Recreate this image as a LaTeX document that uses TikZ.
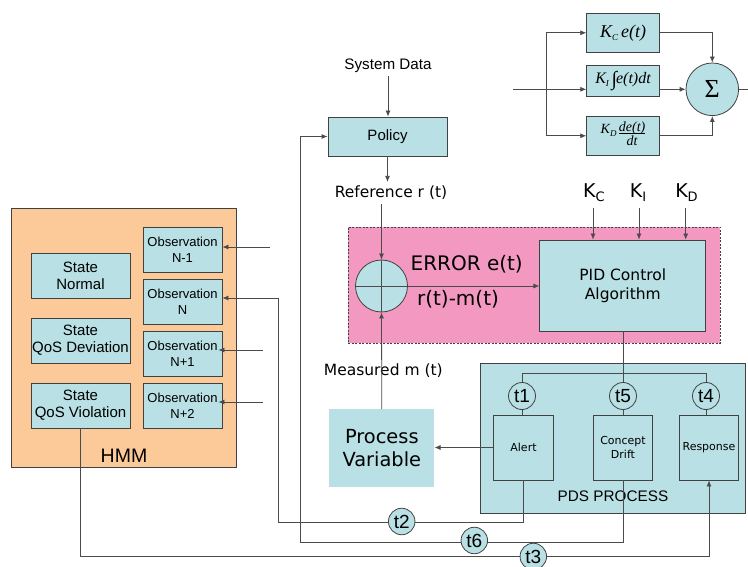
\documentclass[tikz,border=0pt]{standalone}
\usepackage{fontspec}
\setmainfont{Liberation Sans}
\newfontfamily\vf{DejaVu Sans}
\newfontfamily\tf{Liberation Serif}
\usetikzlibrary{arrows.meta}
\definecolor{boxc}{RGB}{185,224,228}
\definecolor{hmmc}{RGB}{252,201,152}
\definecolor{pinkc}{RGB}{243,152,192}
\definecolor{linec}{RGB}{75,75,75}
\definecolor{edgec}{RGB}{65,65,65}
\newcommand\sbs[1]{\raisebox{-3pt}{\fontsize{9}{9}\selectfont #1}}
\begin{document}
\begin{tikzpicture}[x=1pt,y=-1pt,
  box/.style={draw=edgec,fill=boxc,line width=0.8pt,inner sep=0pt,align=center},
  conn/.style={draw=linec,line width=0.8pt},
  arr/.style={conn,-{Latex[length=6pt,width=5pt]}},
  tc/.style={circle,draw=edgec,fill=boxc,line width=0.8pt,inner sep=0pt,minimum size=27pt,font=\fontsize{19}{19}\selectfont},
  statebox/.style={box,minimum width=99pt,minimum height=45pt,font=\fontsize{15}{17}\selectfont},
  obsbox/.style={box,minimum width=79pt,minimum height=45pt,font=\fontsize{13}{16}\selectfont},
  pdsbox/.style={box,minimum width=59.5pt,minimum height=65pt,font=\vf\fontsize{11}{13.3}\selectfont},
  vtext/.style={font=\vf\fontsize{15.5}{18.5}\selectfont,inner sep=1pt},
  ktext/.style={font=\vf\fontsize{19}{20}\selectfont,inner sep=1pt},
  ftbox/.style={box,minimum width=72.6pt}]
\clip (0,0) rectangle (748,567);
\fill[white] (0,0) rectangle (748,567);

% ---------- HMM ----------
\node[fill=hmmc,draw=edgec,line width=0.8pt,minimum width=225pt,minimum height=259pt,inner sep=0pt] (hmm) at (123.5,337.5) {};
\node[font=\fontsize{19.5}{20}\selectfont,inner sep=0pt] (hmml) at (124,456) {HMM};
\node[statebox] (sn) at (80.5,275.5) {State\\Normal};
\node[statebox] (sd) at (80.5,340.5) {State\\QoS Deviation};
\node[statebox] (sv) at (80.5,405.5) {State\\QoS Violation};
\node[obsbox] (o1) at (182.5,249.5) {Observation\\N-1};
\node[obsbox] (o2) at (182.5,301.5) {Observation\\N};
\node[obsbox] (o3) at (182.5,353.5) {Observation\\N+1};
\node[obsbox] (o4) at (182.5,405.5) {Observation\\N+2};

\coordinate (i1) at (270,247);
\coordinate (i3) at (263,350);
\coordinate (i4) at (263,402);
\draw[arr] (i1) -- (i1 -| o1.east);
\draw[arr] (i3) -- ([xshift=-4pt]i3 -| o3.east);
\draw[arr] (i4) -- ([xshift=-4pt]i4 -| o4.east);

% ---------- Policy ----------
\node[font=\fontsize{15.2}{16}\selectfont,inner sep=3pt] (sysd) at (388,66) {System Data};
\node[box,minimum width=119pt,minimum height=39pt,font=\fontsize{15}{16}\selectfont] (pol) at (387.5,136.5) {Policy};
\node[vtext,inner sep=4pt] (ref) at (391,193) {Reference r (t)};
\draw[arr] (sysd.south) -- (sysd.south |- pol.north);
\draw[arr] (pol.south) -- (pol.south |- ref.north);

% ---------- error / PID ----------
\node[fill=pinkc,draw=edgec,dash pattern=on 2pt off 1.5pt,line width=0.6pt,minimum width=372pt,minimum height=116pt,inner sep=0pt] (pink) at (534,285) {};
\node[circle,draw=edgec,fill=boxc,minimum size=52pt,inner sep=0pt,line width=0.8pt] (cir) at (381.5,286) {};
\draw[conn] (cir.north) -- (cir.south);
\draw[conn] (cir.west) -- (cir.east);
\node[box,minimum width=166pt,minimum height=91pt,font=\vf\fontsize{15.5}{18.5}\selectfont] (pid) at (622.8,285.5) {PID Control\\Algorithm};
\node[font=\vf\fontsize{20}{20}\selectfont,inner sep=0pt] (err) at (466.7,264) {ERROR e(t)};
\node[font=\vf\fontsize{20}{20}\selectfont,inner sep=0pt] (rm) at (458,299) {r(t)-m(t)};
\draw[arr] (cir.east) -- (cir.east -| pid.west);
\draw[arr] (cir |- ref.south) -- (cir.north);

\node[ktext] (kc) at (594,193) {K\raisebox{-4pt}{\fontsize{13}{13}\selectfont C}};
\node[ktext] (ki) at (638,193) {K\raisebox{-4pt}{\fontsize{13}{13}\selectfont I}};
\node[ktext] (kd) at (686.5,193) {K\raisebox{-4pt}{\fontsize{13}{13}\selectfont D}};
\coordinate (kca) at (593,208);
\coordinate (kia) at (639,208);
\coordinate (kda) at (685.7,208);
\draw[arr] (kca) -- (kca |- pid.north);
\draw[arr] (kia) -- (kia |- pid.north);
\draw[arr] (kda) -- (kda |- pid.north);

% ---------- Process variable ----------
\node[vtext] (meas) at (383.3,370.7) {Measured m (t)};
\node[fill=boxc,minimum width=105pt,minimum height=77.4pt,inner sep=0pt,align=center,font=\vf\fontsize{19.4}{23}\selectfont] (pv) at (381.8,448) {Process\\Variable};
\draw[arr] (pv.north) -- (cir.south);

% ---------- PDS process ----------
\node[box,minimum width=265pt,minimum height=150pt] (pds) at (613.3,438) {};
\node[font=\fontsize{15.3}{16}\selectfont,inner sep=0pt] (pdsl) at (613,496.7) {PDS PROCESS};
\node[pdsbox] (al) at (523.5,447.5) {Alert};
\node[pdsbox] (cd) at (623,447.5) {Concept\\Drift};
\node[pdsbox] (rs) at (709,447.5) {Response};
\node[tc] (t1) at (522,396) {t1};
\node[tc] (t5) at (623,396) {t5};
\node[tc] (t4) at (706,396) {t4};
\coordinate (bus) at (0,373.3);
\draw[conn] (t1.north) |- (bus -| t4) -- (t4.north);
\draw[conn] (t5 |- pid.south) -- (t5.north);
\draw[conn] (t1.south) -- (t1.south |- al.north);
\draw[conn] (t5.south) -- (t5.south |- cd.north);
\draw[conn] (t4.south) -- (t4.south |- rs.north);
\draw[arr] (al.west) -- (al.west -| pv.east);

% ---------- feedback loops ----------
\coordinate (b2) at (278,522.5);
\coordinate (k2) at (278,298);
\draw[arr] (al.south) |- (b2) -- (k2) -- (k2 -| o2.east);
\coordinate (b6) at (300,542);
\draw[arr] (cd.south) |- (b6) |- (pol.west);
\coordinate (b3) at (709,556.5);
\draw[arr] (sv.south) |- (b3) -- (rs.south);
\node[tc,minimum size=26.5pt] (t2) at (401.7,521.5) {t2};
\node[tc,minimum size=26.5pt] (t6) at (474.3,540.5) {t6};
\node[tc,minimum size=26.5pt] (t3) at (533.3,556.5) {t3};

% ---------- PID formula ----------
\node[ftbox,minimum height=39pt,font={\tf\itshape\fontsize{18}{18}\selectfont}] (kce) at (623,32.8) {K\sbs{C}\,e(t)};
\node[ftbox,minimum height=31pt,font={\tf\itshape\fontsize{16}{16}\selectfont}] (kie) at (623,81.2) {K\sbs{I}\,{\fontsize{20}{20}\selectfont\raisebox{-2pt}{∫}}\kern-1pt e(t)dt};
\node[ftbox,minimum height=38.3pt,font={\tf\itshape\fontsize{14}{14}\selectfont}] (kde) at (623,135.8) {K\sbs{D}\,\raisebox{-0.35\height}{\begin{tabular}{@{}c@{}}de(t)\\[-3pt]\hline\rule{0pt}{12pt}dt\end{tabular}}};
\node[circle,draw=edgec,fill=boxc,minimum size=52.6pt,inner sep=0pt,line width=0.8pt,font={\tf\fontsize{26}{26}\selectfont}] (sig) at (712.3,89.3) {Σ};
\coordinate (in) at (513,89.3);
\coordinate (br) at (546.7,89.3);
\coordinate (out) at (748,89.3);
\draw[arr] (in) -- (in -| kie.west);
\draw[arr] (br) |- (kce.west);
\draw[arr] (br) |- (kde.west);
\draw[arr] (kce.east) -| (sig.north);
\draw[arr] (kde.east) -| (sig.south);
\draw[arr] (kie.east |- sig) -- (sig.west);
\draw[conn] (sig.east) -- (out);
\end{tikzpicture}
\end{document}
